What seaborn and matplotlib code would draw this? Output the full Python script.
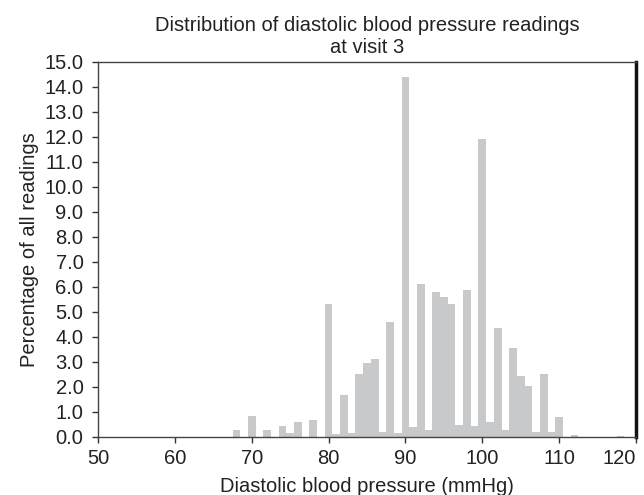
import numpy as np
import pandas as pd
import matplotlib
matplotlib.use("Agg")
import matplotlib.pyplot as plt
import seaborn as sns

# -----------------------------
# Data (percentage of readings per mmHg value)
# -----------------------------
pressure = [68, 70, 72, 74, 75, 76, 78,
            80, 81, 82, 83, 84, 85, 86, 87, 88, 89,
            90, 91, 92, 93, 94, 95, 96, 97, 98, 99,
            100, 101, 102, 103, 104, 105, 106, 107, 108, 109,
            110, 112, 118]
percent = [0.28, 0.84, 0.28, 0.44, 0.16, 0.60, 0.68,
           5.32, 0.12, 1.68, 0.16, 2.52, 2.96, 3.12, 0.21, 4.60, 0.16,
           14.39, 0.40, 6.12, 0.28, 5.80, 5.60, 5.32, 0.48, 5.88, 0.44,
           11.91, 0.60, 4.36, 0.28, 3.56, 2.44, 2.04, 0.20, 2.52, 0.20,
           0.80, 0.08, 0.04]

x_ticks = [50, 60, 70, 80, 90, 100, 110, 120]
y_ticks = list(range(0, 16))

df = pd.DataFrame({"Pressure": pressure, "Percent": percent})

sns.set_style("white")
plt.rcParams['font.family'] = ['Liberation Sans', 'DejaVu Sans']

fig = plt.figure(figsize=(6.44, 4.95), dpi=100)
ax = fig.add_axes([0.1522, 0.1172, 0.8354, 0.7582])

sns.histplot(data=df, x="Pressure", weights="Percent", discrete=True,
             color="#c8c9cb", alpha=1, linewidth=0, ax=ax)

ax.set_xlim(50, 120)
ax.set_ylim(0, 15)
ax.set_xticks(x_ticks)
ax.set_yticks(y_ticks)
ax.set_yticklabels([f"{v:.1f}" for v in y_ticks])
ax.tick_params(axis="both", bottom=True, left=True, direction="out",
               length=4.5, width=1, color="#333333", labelsize=14.5,
               labelcolor="#222222")
ax.tick_params(axis="y", pad=6)
ax.tick_params(axis="x", pad=4.5)
ax.get_xticklabels()[-1].set_horizontalalignment("right")

for side in ["left", "top", "bottom"]:
    ax.spines[side].set_color("#444444")
    ax.spines[side].set_linewidth(1.0)
ax.spines["right"].set_color("#111111")
ax.spines["right"].set_linewidth(2.5)

ax.set_title("Distribution of diastolic blood pressure readings\nat visit 3",
             fontsize=14.5, color="#222222", pad=6.5, linespacing=1.15)
ax.set_xlabel("Diastolic blood pressure (mmHg)", fontsize=14.5,
              color="#222222", labelpad=6)
ax.set_ylabel("Percentage of all readings", fontsize=14.5,
              color="#222222", labelpad=4)

plt.savefig("out.png", dpi=100)
